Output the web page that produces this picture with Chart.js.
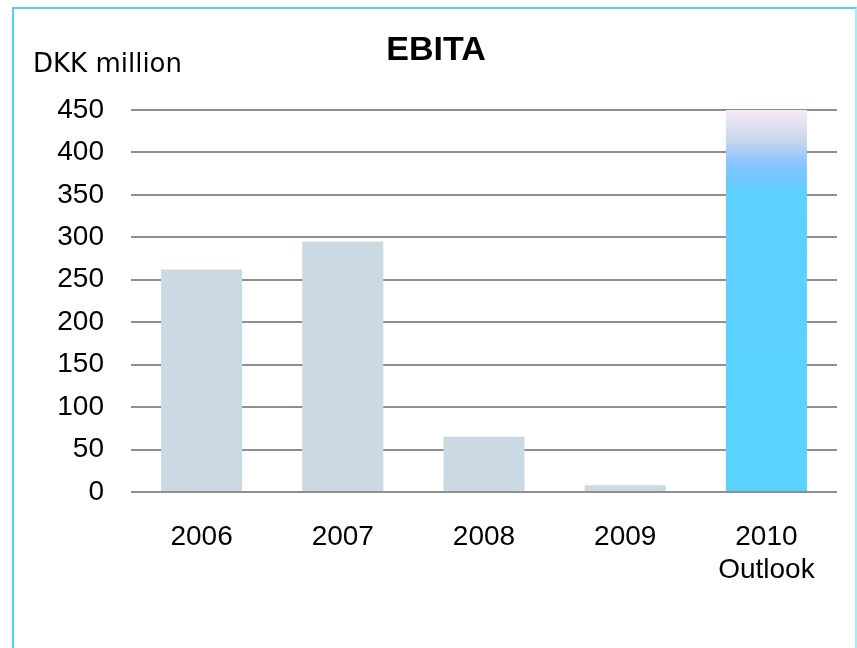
<!DOCTYPE html>
<html>
<head>
<meta charset="utf-8">
<title>EBITA</title>
<script src="https://cdn.jsdelivr.net/npm/chart.js@4.4.0/dist/chart.umd.min.js"></script>
<style>
  body { margin: 0; background: #fff; }
  #frame {
    position: absolute;
    left: 12px;
    top: 7px;
    width: 841px;
    height: 700px;
    border: 2px solid #55d0f5;
    border-bottom: none;
    border-right-color: #a8ecfb;
  }
  #myChart { position: absolute; left: 0; top: 0; }
</style>
</head>
<body>
<div id="frame"></div>
<canvas id="myChart" width="857" height="648"></canvas>
<script>
const labels = ['2006', '2007', '2008', '2009', ['2010', 'Outlook']];
const ebita = [262, 295, 65, 8, 450];
const yTicks = [0, 50, 100, 150, 200, 250, 300, 350, 400, 450];

const greyBar = '#cbd9e2';

// gradient for the outlook bar, built from the y scale
const outlookFill = (context) => {
  const chart = context.chart;
  const y = chart.scales.y;
  if (!y || !chart.chartArea) return '#5cd0ff';
  const top = y.getPixelForValue(450);
  const bottom = y.getPixelForValue(0);
  const g = chart.ctx.createLinearGradient(0, top, 0, bottom);
  const span = bottom - top;
  g.addColorStop(0, '#f9e8f5');
  g.addColorStop(30 / span, '#c8d8ea');
  g.addColorStop(52 / span, '#8cc4ff');
  g.addColorStop(70 / span, '#6ccaff');
  g.addColorStop(85 / span, '#5cd0ff');
  g.addColorStop(1, '#5bd2ff');
  return g;
};

// title and unit text
const headerText = {
  id: 'headerText',
  afterDraw(chart) {
    const ctx = chart.ctx;
    ctx.save();
    ctx.fillStyle = '#000';
    ctx.textBaseline = 'alphabetic';
    ctx.textAlign = 'center';
    ctx.font = 'bold 34px "Liberation Sans", Arial, sans-serif';
    ctx.fillText('EBITA', 436, 60);
    ctx.textAlign = 'left';
    ctx.font = '26px "DejaVu Sans", Verdana, sans-serif';
    ctx.fillText('DKK million', 33, 72);
    ctx.restore();
  }
};

const ctx = document.querySelector('#myChart').getContext('2d');
const chart = new Chart(ctx, {
  type: 'bar',
  data: {
    labels,
    datasets: [
      {
        label: 'EBITA',
        data: ebita,
        backgroundColor: (c) => (c.dataIndex === 4 ? outlookFill(c) : greyBar),
        borderWidth: 0,
        categoryPercentage: 1,
        barPercentage: 0.574
      }
    ]
  },
  options: {
    responsive: false,
    animation: false,
    layout: { padding: { left: 0, right: 20, top: 110, bottom: 0 } },
    plugins: {
      legend: { display: false },
      title: { display: false },
      tooltip: { enabled: false }
    },
    scales: {
      x: {
        grid: { display: false, drawTicks: false },
        border: { display: false },
        ticks: {
          color: '#000',
          padding: 28,
          maxRotation: 0,
          font: { family: '"Liberation Sans", Arial, sans-serif', size: 28, lineHeight: 1.2 }
        },
        afterFit: (scale) => { scale.height = 156; }
      },
      y: {
        min: 0,
        max: 450,
        afterBuildTicks: (scale) => { scale.ticks = yTicks.map(v => ({ value: v })); },
        grid: { color: '#8e8e8e', lineWidth: 2, drawTicks: false },
        border: { display: false },
        ticks: {
          color: '#000',
          padding: 27,
          font: { family: '"Liberation Sans", Arial, sans-serif', size: 28 }
        },
        afterFit: (scale) => { scale.width = 131; }
      }
    }
  },
  plugins: [headerText]
});
</script>
</body>
</html>
